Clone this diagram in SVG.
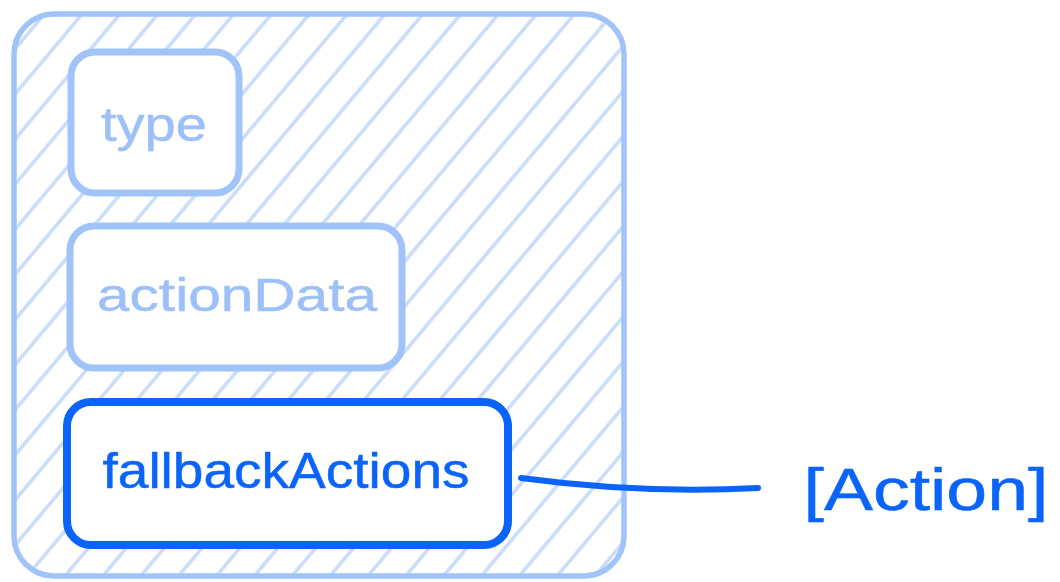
<svg xmlns="http://www.w3.org/2000/svg" width="1060" height="582" viewBox="0 0 1060 582">
  <defs>
    <pattern id="hatch" patternUnits="userSpaceOnUse" width="29" height="29" patternTransform="rotate(40)">
      <line x1="14" y1="-2" x2="14" y2="31" stroke="#c8dbf8" stroke-width="3.5"/>
    </pattern>
    <style>
      .light { fill: #ffffff; stroke: #a0c3fa; stroke-width: 7; stroke-linejoin: round; }
      .dark { fill: #ffffff; stroke: #0a64fa; stroke-width: 8; stroke-linejoin: round; }
      .tl { fill: #9dc0f8; stroke: #9dc0f8; stroke-width: 0.5; stroke-linejoin: round; font-family: "Liberation Sans", "DejaVu Sans", sans-serif; text-anchor: middle; }
      .td { fill: #0a64fa; stroke: #0a64fa; stroke-width: 0.5; stroke-linejoin: round; font-family: "Liberation Sans", "DejaVu Sans", sans-serif; text-anchor: middle; }
      .conn { fill: none; stroke: #0a64fa; stroke-width: 6; stroke-linecap: round; }
    </style>
  </defs>
  <rect width="1060" height="582" fill="#ffffff"/>
  <g id="container">
    <rect x="14" y="14" width="610" height="562" rx="40" fill="url(#hatch)" stroke="#a0c3fa" stroke-width="5.5"/>
  </g>
  <g id="node-type">
    <rect class="light" x="71" y="52" width="168" height="141" rx="24"/>
    <text class="tl" x="154" y="141" font-size="48" textLength="106" lengthAdjust="spacingAndGlyphs">type</text>
  </g>
  <g id="node-actionData">
    <rect class="light" x="70" y="226" width="332" height="142" rx="24"/>
    <text class="tl" x="237" y="311" font-size="46" textLength="280" lengthAdjust="spacingAndGlyphs">actionData</text>
  </g>
  <g id="node-fallbackActions">
    <rect class="dark" x="67" y="402" width="441" height="143" rx="24"/>
    <text class="td" x="286" y="488" font-size="50" textLength="367" lengthAdjust="spacingAndGlyphs">fallbackActions</text>
  </g>
  <g id="connectors">
    <path class="conn" d="M 521 478 Q 640 494 758 488"/>
  </g>
  <g id="label-action">
    <text class="td" x="926" y="510" font-size="60" textLength="245" lengthAdjust="spacingAndGlyphs">[Action]</text>
  </g>
</svg>
